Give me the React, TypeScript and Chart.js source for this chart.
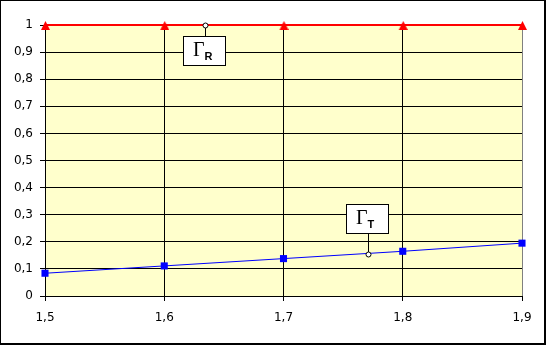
import React, { useEffect, useRef } from 'react';
import { Chart, registerables } from 'chart.js';

Chart.register(...registerables);

const xValues = [1.5, 1.6, 1.7, 1.8, 1.9];
const gammaR = [1, 1, 1, 1, 1];
const gammaT = [0.084, 0.111, 0.138, 0.165, 0.195];
const xTicks = [1.5, 1.6, 1.7, 1.8, 1.9];
const yTicks = [0, 0.1, 0.2, 0.3, 0.4, 0.5, 0.6, 0.7, 0.8, 0.9, 1];
const calloutSub = ['R', 'T'];
const calloutX = [1.634, 1.771];
const calloutY = [1, 0.155];

const fmtY = (v: number) => (v === 0 ? '0' : v === 1 ? '1' : v.toFixed(1).replace('.', ','));
const fmtX = (v: number) => v.toFixed(1).replace('.', ',');

function makeTriangle(): HTMLCanvasElement {
  const c = document.createElement('canvas');
  c.width = 10;
  c.height = 10;
  const g = c.getContext('2d')!;
  g.fillStyle = '#FF0000';
  g.beginPath();
  g.moveTo(5.5, 1);
  g.lineTo(10, 10);
  g.lineTo(1, 10);
  g.closePath();
  g.fill();
  return c;
}

export default function App() {
  const ref = useRef<HTMLCanvasElement | null>(null);

  useEffect(() => {
    if (!ref.current) return;
    const tri = makeTriangle();

    const framePlugin = {
      id: 'frame',
      beforeDraw(chart: any) {
        const { ctx, chartArea: a } = chart;
        ctx.save();
        ctx.fillStyle = '#FFFFFF';
        ctx.fillRect(0, 0, chart.width, chart.height);
        ctx.fillStyle = '#FFFFCC';
        ctx.fillRect(a.left, a.top, a.right - a.left, a.bottom - a.top);
        ctx.restore();
      },
      beforeDatasetsDraw(chart: any) {
        const { ctx, chartArea: a } = chart;
        ctx.save();
        ctx.strokeStyle = '#808080';
        ctx.lineWidth = 1;
        ctx.beginPath();
        ctx.moveTo(Math.round(a.left) + 0.5, Math.round(a.top) - 0.5);
        ctx.lineTo(Math.round(a.right) + 0.5, Math.round(a.top) - 0.5);
        ctx.lineTo(Math.round(a.right) + 0.5, Math.round(a.bottom));
        ctx.stroke();
        ctx.restore();
      },
      afterDraw(chart: any) {
        const { ctx } = chart;
        const xs = chart.scales.x;
        const ys = chart.scales.y;
        ctx.save();
        calloutSub.forEach((sub, i) => {
          const ax = Math.round(xs.getPixelForValue(calloutX[i]));
          const ay = Math.round(ys.getPixelForValue(calloutY[i]));
          const below = i === 0;
          const bw = 43;
          const bh = 30;
          const bl = ax - 22;
          const bt = below ? ay + 11 : ay - 50;
          ctx.strokeStyle = '#000000';
          ctx.lineWidth = 1;
          ctx.beginPath();
          if (below) {
            ctx.moveTo(ax + 0.5, ay + 3);
            ctx.lineTo(ax + 0.5, bt);
          } else {
            ctx.moveTo(ax + 0.5, ay - 2);
            ctx.lineTo(ax + 0.5, bt + bh);
          }
          ctx.stroke();
          ctx.fillStyle = '#FFFFFF';
          ctx.fillRect(bl, bt, bw, bh);
          ctx.strokeRect(bl + 0.5, bt + 0.5, bw - 1, bh - 1);
          ctx.beginPath();
          ctx.arc(ax + 0.5, ay + 0.5, 2.5, 0, Math.PI * 2);
          ctx.fillStyle = '#FFFFFF';
          ctx.fill();
          ctx.stroke();
          ctx.fillStyle = '#000000';
          ctx.textBaseline = 'alphabetic';
          ctx.textAlign = 'left';
          ctx.font = '20px "Liberation Serif"';
          ctx.fillText('\u0393', bl + 10, bt + 20);
          const gw = ctx.measureText('\u0393').width;
          ctx.font = 'bold 11px "Liberation Sans"';
          ctx.fillText(sub, bl + 10 + gw, bt + 24);
        });
        ctx.strokeStyle = '#000000';
        ctx.lineWidth = 1;
        ctx.strokeRect(0.5, 0.5, 544, 343);
        ctx.beginPath();
        ctx.moveTo(545.5, 0);
        ctx.lineTo(545.5, 345);
        ctx.moveTo(0, 344.5);
        ctx.lineTo(546, 344.5);
        ctx.stroke();
        ctx.restore();
      },
    };

    const font = { family: '"DejaVu Sans", Verdana, sans-serif', size: 12 };

    const chart = new Chart(ref.current, {
      type: 'line',
      data: {
        datasets: [
          {
            label: 'R',
            data: xValues.map((x, i) => ({ x, y: gammaR[i] })),
            borderColor: '#FF0000',
            borderWidth: 2,
            pointStyle: tri as any,
            pointRadius: 5,
            clip: false as any,
          },
          {
            label: 'T',
            data: xValues.map((x, i) => ({ x, y: gammaT[i] })),
            borderColor: '#0000FF',
            backgroundColor: '#0000FF',
            borderWidth: 1,
            pointStyle: 'rect',
            pointRadius: 5,
            pointBorderWidth: 0,
            pointBackgroundColor: '#0000FF',
            clip: false as any,
          },
        ],
      },
      options: {
        responsive: false,
        animation: false,
        devicePixelRatio: 1,
        layout: { padding: { left: 0, top: 25, right: 24, bottom: 0 } },
        plugins: { legend: { display: false }, tooltip: { enabled: false } },
        elements: { line: { tension: 0 } },
        scales: {
          x: {
            type: 'linear',
            min: 1.5,
            max: 1.9,
            afterBuildTicks: (s: any) => {
              s.ticks = xTicks.map((v) => ({ value: v }));
            },
            afterFit: (s: any) => {
              s.height = 52;
            },
            ticks: {
              callback: (v: any) => fmtX(Number(v)),
              color: '#000000',
              font,
              padding: 10,
              maxRotation: 0,
            },
            grid: {
              color: (c: any) => (c.tick && Math.abs(c.tick.value - 1.9) < 1e-9 ? 'rgba(0,0,0,0)' : '#000000'),
              tickColor: '#000000',
              tickLength: 5,
              lineWidth: 1,
            },
            border: { color: '#000000', width: 1 },
          },
          y: {
            type: 'linear',
            min: 0,
            max: 1,
            afterBuildTicks: (s: any) => {
              s.ticks = yTicks.map((v) => ({ value: v }));
            },
            afterFit: (s: any) => {
              s.width = 45;
            },
            ticks: {
              callback: (v: any) => fmtY(Number(v)),
              color: '#000000',
              font,
              padding: 7,
            },
            grid: {
              color: '#000000',
              tickColor: '#000000',
              tickLength: 5,
              lineWidth: 1,
            },
            border: { color: '#000000', width: 1 },
          },
        },
      },
      plugins: [framePlugin],
    });
    return () => chart.destroy();
  }, []);

  return (
    <div style={{ position: 'fixed', left: 0, top: 0, width: 546, height: 348, background: '#FFFFFF' }}>
      <canvas ref={ref} width={546} height={348} style={{ display: 'block' }} />
    </div>
  );
}
